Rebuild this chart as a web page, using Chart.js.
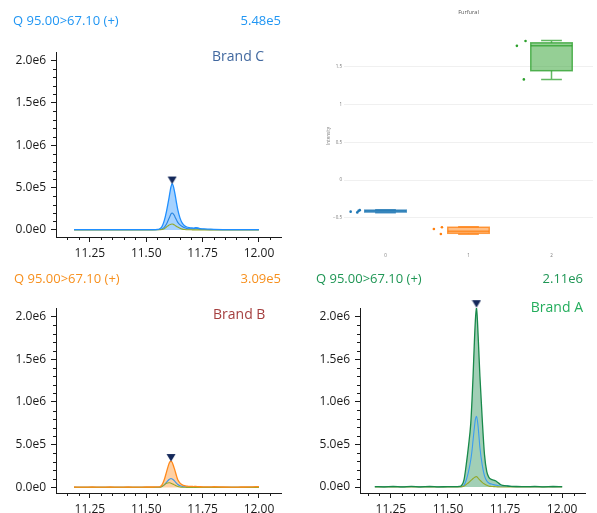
<!DOCTYPE html>
<html lang="en">
<head>
<meta charset="UTF-8" />
<title>Furfural chromatograms</title>
<script src="https://cdn.jsdelivr.net/npm/chart.js"></script>
<style>
  body { margin: 0; width: 597px; height: 513px; overflow: hidden; position: relative; background: #fff; font-family: 'Open Sans', sans-serif; }
  .panel { position: absolute; }
  .txt { position: absolute; white-space: nowrap; }
  .hdr { font-size: 13px; line-height: 16px; }
  .brand { font-size: 14px; line-height: 18px; }
</style>
</head>
<body>

<div class="panel" style="left:0;top:0"><canvas id="chartC" width="298" height="262"></canvas></div>
<div class="panel" style="left:300px;top:0"><canvas id="chartBox" width="297" height="262"></canvas></div>
<div class="panel" style="left:0;top:256px"><canvas id="chartB" width="298" height="262"></canvas></div>
<div class="panel" style="left:300px;top:256px"><canvas id="chartA" width="297" height="262"></canvas></div>

<div class="txt hdr" style="left:13px;top:12px;color:#2196f3">Q 95.00&gt;67.10 (+)</div>
<div class="txt hdr" style="left:0;width:281px;text-align:right;top:12px;color:#2196f3">5.48e5</div>
<div class="txt hdr" style="left:14px;top:270px;color:#f7901e">Q 95.00&gt;67.10 (+)</div>
<div class="txt hdr" style="left:0;width:281px;text-align:right;top:270px;color:#f7901e">3.09e5</div>
<div class="txt hdr" style="left:316px;top:270px;color:#1f9655">Q 95.00&gt;67.10 (+)</div>
<div class="txt hdr" style="left:300px;width:283px;text-align:right;top:270px;color:#1f9655">2.11e6</div>

<div class="txt brand" style="left:212px;top:47px;color:#41689f">Brand C</div>
<div class="txt brand" style="left:213px;top:305px;color:#a53f3f">Brand B</div>
<div class="txt brand" style="left:300px;width:283px;text-align:right;top:298px;color:#23ad5c">Brand A</div>

<script>
// retention time grid (min)
const times = [11.18, 11.22, 11.26, 11.30, 11.34, 11.38, 11.42, 11.46, 11.50, 11.53, 11.55,
  11.56, 11.57, 11.58, 11.59, 11.60, 11.605, 11.61, 11.615, 11.62, 11.625, 11.63, 11.635,
  11.64, 11.65, 11.66, 11.67, 11.68, 11.69, 11.70, 11.71, 11.72, 11.73, 11.74, 11.76,
  11.78, 11.80, 11.84, 11.88, 11.92, 11.96, 12.00];

const brandCMain = [4000, 3000, 5000, 3000, 4000, 3000, 5000, 3000, 4000, 4000, 6000,
  15000, 40000, 110000, 220000, 360000, 440000, 510000, 548000, 520000, 460000, 390000, 310000,
  240000, 140000, 80000, 50000, 35000, 28000, 25000, 22000, 26000, 24000, 16000, 12000,
  10000, 8000, 5000, 4000, 3000, 4000, 3000];
const brandCIon2 = [3000, 2000, 3000, 2000, 3000, 2000, 3000, 2000, 3000, 3000, 4000,
  6000, 10000, 30000, 70000, 130000, 160000, 190000, 200000, 190000, 170000, 140000, 115000,
  90000, 60000, 40000, 25000, 18000, 15000, 15000, 14000, 20000, 15000, 10000, 6000,
  4000, 3000, 3000, 2000, 3000, 2000, 3000];
const brandCIon3 = [1000, 1000, 1000, 1000, 1000, 1000, 1000, 1000, 1000, 1000, 2000,
  3000, 5000, 15000, 35000, 55000, 63000, 68000, 70000, 66000, 60000, 50000, 42000,
  35000, 20000, 10000, 5000, 3000, 2000, 2000, 1000, 1000, 1000, 1000, 1000,
  1000, 1000, 1000, 1000, 1000, 1000, 1000];

const brandBMain = [5000, 4000, 5000, 4000, 5000, 4000, 5000, 4000, 5000, 5000, 6000,
  8000, 30000, 90000, 180000, 270000, 300000, 309000, 295000, 260000, 220000, 175000, 130000,
  90000, 50000, 30000, 20000, 15000, 12000, 13000, 10000, 13000, 9000, 8000, 7000,
  6000, 8000, 5000, 4000, 5000, 6000, 10000];
const brandBIon2 = [3000, 2000, 3000, 2000, 3000, 2000, 3000, 2000, 3000, 3000, 3000,
  4000, 10000, 30000, 60000, 90000, 100000, 105000, 100000, 90000, 78000, 62000, 48000,
  35000, 20000, 12000, 8000, 6000, 5000, 5000, 4000, 4000, 3000, 3000, 3000,
  3000, 3000, 2000, 3000, 2000, 3000, 2000];
const brandBIon3 = [1000, 1000, 1000, 1000, 1000, 1000, 1000, 1000, 1000, 1000, 2000,
  3000, 12000, 30000, 48000, 55000, 54000, 50000, 44000, 37000, 30000, 23000, 17000,
  12000, 6000, 3000, 2000, 1000, 1000, 1000, 1000, 1000, 1000, 1000, 1000,
  1000, 1000, 1000, 1000, 1000, 1000, 1000];

const brandAMain = [5000, 3000, 6000, 2000, 7000, 3000, 6000, 2000, 5000, 4000, 8000,
  20000, 80000, 260000, 480000, 750000, 1000000, 1300000, 1650000, 1950000, 2110000, 1900000, 1600000,
  1300000, 800000, 380000, 180000, 110000, 90000, 82000, 70000, 50000, 30000, 20000, 12000,
  8000, 6000, 4000, 7000, 3000, 6000, 4000];
const brandAIon2 = [3000, 2000, 3000, 2000, 3000, 2000, 3000, 2000, 3000, 3000, 4000,
  5000, 20000, 80000, 180000, 320000, 420000, 550000, 680000, 790000, 830000, 760000, 620000,
  460000, 260000, 130000, 70000, 45000, 35000, 28000, 22000, 16000, 12000, 10000, 15000,
  5000, 4000, 3000, 2000, 3000, 2000, 3000];
const brandAIon3 = [1000, 1000, 1000, 1000, 1000, 1000, 1000, 1000, 1000, 1000, 2000,
  4000, 10000, 30000, 50000, 75000, 88000, 100000, 110000, 118000, 124000, 110000, 95000,
  80000, 55000, 35000, 20000, 10000, 7000, 5000, 3000, 2000, 1000, 1000, 1000,
  1000, 1000, 1000, 1000, 1000, 1000, 1000];

// order: Brand C, Brand B, Brand A
const peakTimes = [11.615, 11.61, 11.625];
const peakValues = [548000, 309000, 2110000];

const yMajorTicks = [0, 500000, 1000000, 1500000, 2000000];
const yMinorTicks = [100000, 200000, 300000, 400000, 600000, 700000, 800000, 900000,
  1100000, 1200000, 1300000, 1400000, 1600000, 1700000, 1800000, 1900000];
const xMajorTicks = [11.25, 11.5, 11.75, 12.0];
const xMinorTicks = [11.15, 11.2, 11.3, 11.35, 11.4, 11.45, 11.55, 11.6, 11.65, 11.7,
  11.8, 11.85, 11.9, 11.95, 12.05];

// box plot (Furfural)
const boxCategories = [0, 1, 2];
const boxLow = [-0.435, -0.72, 1.335];
const boxQ1 = [-0.425, -0.707, 1.45];
const boxMedian = [-0.41, -0.68, 1.78];
const boxQ3 = [-0.40, -0.627, 1.82];
const boxHigh = [-0.395, -0.62, 1.85];
const boxPointsX = [[-0.42, -0.34, -0.325, -0.31], [0.583, 0.68, 0.667], [1.583, 1.687, 1.667]];
const boxPointsY = [[-0.42, -0.43, -0.41, -0.40], [-0.65, -0.627, -0.716], [1.78, 1.845, 1.335]];
const boxYTicks = [-0.5, 0, 0.5, 1, 1.5];

Chart.defaults.font.family = "'Open Sans', sans-serif";
Chart.defaults.animation = false;

const AXIS = '#1a1a1a';

function makeMarker() {
  const c = document.createElement('canvas');
  c.width = 10; c.height = 16;
  const g = c.getContext('2d');
  g.fillStyle = '#14285a';
  g.beginPath();
  g.moveTo(0.5, 1); g.lineTo(9.5, 1); g.lineTo(5, 8.5);
  g.closePath(); g.fill();
  return c;
}
const marker = makeMarker();

const minorTicks = {
  id: 'minorTicks',
  afterDraw(chart) {
    const { ctx, chartArea: a, scales: { x, y } } = chart;
    ctx.save();
    ctx.strokeStyle = AXIS; ctx.lineWidth = 1;
    ctx.beginPath();
    xMinorTicks.forEach(v => {
      const px = Math.round(x.getPixelForValue(v)) + 0.5;
      ctx.moveTo(px, a.bottom); ctx.lineTo(px, a.bottom + 3);
    });
    yMinorTicks.forEach(v => {
      const py = Math.round(y.getPixelForValue(v)) + 0.5;
      ctx.moveTo(a.left - 3, py); ctx.lineTo(a.left, py);
    });
    ctx.stroke();
    ctx.restore();
  }
};

function series(vals) {
  return times.map((t, i) => ({ x: t, y: vals[i] }));
}

function chromChart(id, k, main, ion2, ion3, c, xMin, xMax, yMin, yWidth, padRight) {
  new Chart(document.getElementById(id), {
    type: 'line',
    data: {
      datasets: [
        { data: [{ x: peakTimes[k], y: peakValues[k] }], showLine: false, pointStyle: marker,
          pointRadius: 5, clip: false },
        { data: series(main), borderColor: c.line, backgroundColor: c.fill, borderWidth: 1.3,
          pointRadius: 0, fill: 'origin', cubicInterpolationMode: 'monotone' },
        { data: series(ion3), borderColor: '#93a82a', borderWidth: 1.1, pointRadius: 0, fill: false,
          cubicInterpolationMode: 'monotone' },
        { data: series(ion2), borderColor: c.ion2, borderWidth: 1.1, pointRadius: 0, fill: false,
          cubicInterpolationMode: 'monotone' }
      ]
    },
    options: {
      responsive: false,
      layout: { padding: { top: 52, right: padRight, left: 0, bottom: 0 } },
      plugins: { legend: { display: false }, tooltip: { enabled: false },
        filler: { drawTime: 'beforeDatasetsDraw' } },
      scales: {
        x: {
          type: 'linear', min: xMin, max: xMax,
          afterBuildTicks: s => { s.ticks = xMajorTicks.map(v => ({ value: v })); },
          afterFit: s => { s.height = 25; },
          grid: { drawOnChartArea: false, tickLength: 5, tickColor: AXIS },
          border: { color: AXIS },
          ticks: { color: AXIS, font: { size: 12 }, padding: 4, maxRotation: 0,
            callback: v => v.toFixed(2) }
        },
        y: {
          min: yMin, max: 2100000,
          afterBuildTicks: s => { s.ticks = yMajorTicks.map(v => ({ value: v })); },
          afterFit: s => { s.width = yWidth; },
          grid: { drawOnChartArea: false, tickLength: 5, tickColor: AXIS },
          border: { color: AXIS },
          ticks: { color: AXIS, font: { size: 12 }, padding: 5,
            callback: v => v.toExponential(1).replace('+', '') }
        }
      }
    },
    plugins: [minorTicks]
  });
}

chromChart('chartC', 0, brandCMain, brandCIon2, brandCIon3,
  { line: '#1f8fff', fill: 'rgba(31,143,255,0.4)', ion2: '#2784e0' }, 11.1, 12.1, -83000, 56, 16.5);
chromChart('chartB', 1, brandBMain, brandBIon2, brandBIon3,
  { line: '#ff8a1c', fill: 'rgba(255,150,50,0.45)', ion2: '#3d96e6' }, 11.1, 12.1, -65000, 56, 16.5);
chromChart('chartA', 2, brandAMain, brandAIon2, brandAIon3,
  { line: '#17894a', fill: 'rgba(30,140,80,0.42)', ion2: '#3a9cf0' }, 11.115, 12.1, -70000, 60, 12);

// plotly-style box plot
const boxLine = ['#1f77b4', '#ff7f0e', '#2ca02c'];
const boxFill = ['rgba(31,119,180,0.5)', 'rgba(255,127,14,0.5)', 'rgba(44,160,44,0.5)'];

const boxPlot = {
  id: 'boxPlot',
  beforeDatasetsDraw(chart) {
    const { ctx, scales: { x, y } } = chart;
    boxCategories.forEach((c, i) => {
      const xl = x.getPixelForValue(c - 0.25), xr = x.getPixelForValue(c + 0.25);
      const cl = x.getPixelForValue(c - 0.125), cr = x.getPixelForValue(c + 0.125);
      const xc = x.getPixelForValue(c);
      const top = y.getPixelForValue(boxQ3[i]), bot = y.getPixelForValue(boxQ1[i]);
      const med = y.getPixelForValue(boxMedian[i]);
      const hi = y.getPixelForValue(boxHigh[i]), lo = y.getPixelForValue(boxLow[i]);
      ctx.save();
      ctx.lineWidth = 1.5;
      ctx.strokeStyle = boxLine[i];
      ctx.fillStyle = boxFill[i];
      ctx.fillRect(xl, top, xr - xl, bot - top);
      ctx.globalAlpha = 0.75;
      ctx.strokeRect(xl, top, xr - xl, bot - top);
      ctx.beginPath();
      ctx.moveTo(xl, med); ctx.lineTo(xr, med);
      ctx.moveTo(xc, top); ctx.lineTo(xc, hi);
      ctx.moveTo(cl, hi); ctx.lineTo(cr, hi);
      ctx.moveTo(xc, bot); ctx.lineTo(xc, lo);
      ctx.moveTo(cl, lo); ctx.lineTo(cr, lo);
      ctx.stroke();
      ctx.restore();
    });
  }
};

new Chart(document.getElementById('chartBox'), {
  type: 'scatter',
  data: {
    datasets: boxCategories.map((c, i) => ({
      data: boxPointsX[i].map((px, j) => ({ x: px, y: boxPointsY[i][j] })),
      backgroundColor: boxLine[i], borderWidth: 0, pointRadius: 1.3
    }))
  },
  options: {
    responsive: false,
    layout: { padding: { top: 0, right: 1, left: 24, bottom: 0 } },
    plugins: {
      legend: { display: false }, tooltip: { enabled: false },
      title: { display: true, text: 'Furfural', fullSize: false, color: '#555',
        font: { size: 5.6, weight: 'normal' }, padding: { top: 9, bottom: 15.8 } }
    },
    scales: {
      x: {
        type: 'linear', min: -0.5, max: 2.5,
        afterBuildTicks: s => { s.ticks = boxCategories.map(v => ({ value: v })); },
        afterFit: s => { s.height = 21.7; },
        grid: { display: false }, border: { display: false },
        ticks: { color: '#777', font: { size: 4.5 }, padding: 5, callback: v => String(v) }
      },
      y: {
        min: -0.8, max: 1.97,
        afterBuildTicks: s => { s.ticks = boxYTicks.map(v => ({ value: v })); },
        afterFit: s => { s.width = 20; },
        grid: { color: 'rgba(0,0,0,0.06)', drawTicks: false }, border: { display: false },
        ticks: { color: '#777', font: { size: 4.5 }, padding: 2,
          callback: v => v < 0 ? '\u2212' + Math.abs(v) : String(v) },
        title: { display: true, text: 'Intensity', color: '#777', font: { size: 4.5 },
          padding: { top: 2.5, bottom: 0 } }
      }
    }
  },
  plugins: [boxPlot]
});
</script>
</body>
</html>
